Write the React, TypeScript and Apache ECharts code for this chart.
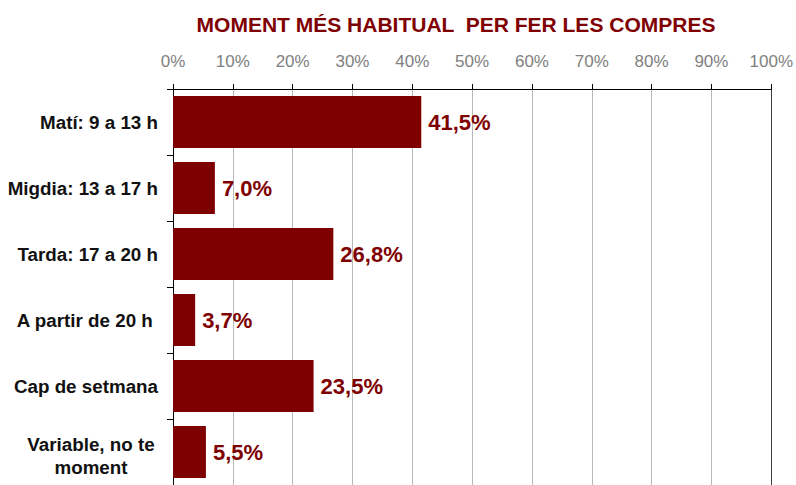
import React, { useEffect, useRef } from "react";
import * as echarts from "echarts";

const TITLE = "MOMENT MÉS HABITUAL  PER FER LES COMPRES";
const categories = [
  "Matí: 9 a 13 h",
  "Migdia: 13 a 17 h",
  "Tarda: 17 a 20 h",
  "A partir de 20 h ",
  "Cap de setmana",
  "Variable, no te\nmoment",
];
const values = [41.5, 7.0, 26.8, 3.7, 23.5, 5.5];
const axisMin = 0;
const axisMax = 100;
const axisStep = 10;

const RED = "#7f0000";
const FONT = "'Liberation Sans', Arial, sans-serif";

export default function App() {
  const ref = useRef<HTMLDivElement>(null);
  useEffect(() => {
    if (!ref.current) return;
    const chart = echarts.init(ref.current, null, { renderer: "svg" });
    const gridColors: string[] = [];
    for (let v = axisMin; v <= axisMax; v += axisStep) {
      gridColors.push(v === axisMax ? "#404040" : "#b8b8b8");
    }
    const catData = categories.map((c) =>
      c.indexOf("\n") >= 0
        ? { value: c, textStyle: { padding: [8, 0, 0, 0] } }
        : c
    );
    chart.setOption({
      animation: false,
      backgroundColor: "#ffffff",
      graphic: [
        {
          type: "text",
          x: 456,
          y: 24,
          style: {
            text: TITLE,
            align: "center",
            verticalAlign: "middle",
            fill: RED,
            font: `bold 21px ${FONT}`,
          },
        },
      ],
      grid: { left: 173, right: 24, top: 89, height: 400, containLabel: false },
      xAxis: {
        type: "value",
        position: "top",
        min: axisMin,
        max: axisMax,
        interval: axisStep,
        axisLine: { show: true, lineStyle: { color: "#000", width: 1 } },
        axisTick: { show: true, length: 5, lineStyle: { color: "#000" } },
        axisLabel: {
          formatter: "{value}%",
          color: "#808080",
          fontSize: 17,
          fontFamily: FONT,
          margin: 19,
        },
        splitLine: { show: true, lineStyle: { color: gridColors, width: 1 } },
      },
      yAxis: {
        type: "category",
        inverse: true,
        data: catData,
        axisLine: { show: true, lineStyle: { color: "#000", width: 1 } },
        axisTick: { show: true, length: 6, lineStyle: { color: "#000" } },
        axisLabel: {
          margin: 15,
          formatter: (v: string) => {
            if (v.indexOf("\n") >= 0) {
              return v
                .split("\n")
                .map((s) => `{c|${s}}`)
                .join("\n");
            }
            return v;
          },
          color: "#111",
          fontWeight: "bold",
          fontSize: 18.8,
          fontFamily: FONT,
          lineHeight: 23,
          rich: {
            c: {
              width: 134,
              align: "center",
              color: "#111",
              fontWeight: "bold",
              fontSize: 18.8,
              fontFamily: FONT,
              lineHeight: 23,
            },
          },
        },
      },
      series: [
        {
          type: "bar",
          data: values,
          barWidth: 52,
          itemStyle: { color: RED },
          label: {
            show: true,
            position: "right",
            distance: 7,
            color: RED,
            fontWeight: "bold",
            fontSize: 22,
            fontFamily: FONT,
            formatter: (p: any) => p.value.toFixed(1).replace(".", ",") + "%",
          },
        },
      ],
    });
    return () => chart.dispose();
  }, []);
  return (
    <div
      ref={ref}
      style={{ position: "fixed", left: 0, top: 0, width: 796, height: 485 }}
    />
  );
}
